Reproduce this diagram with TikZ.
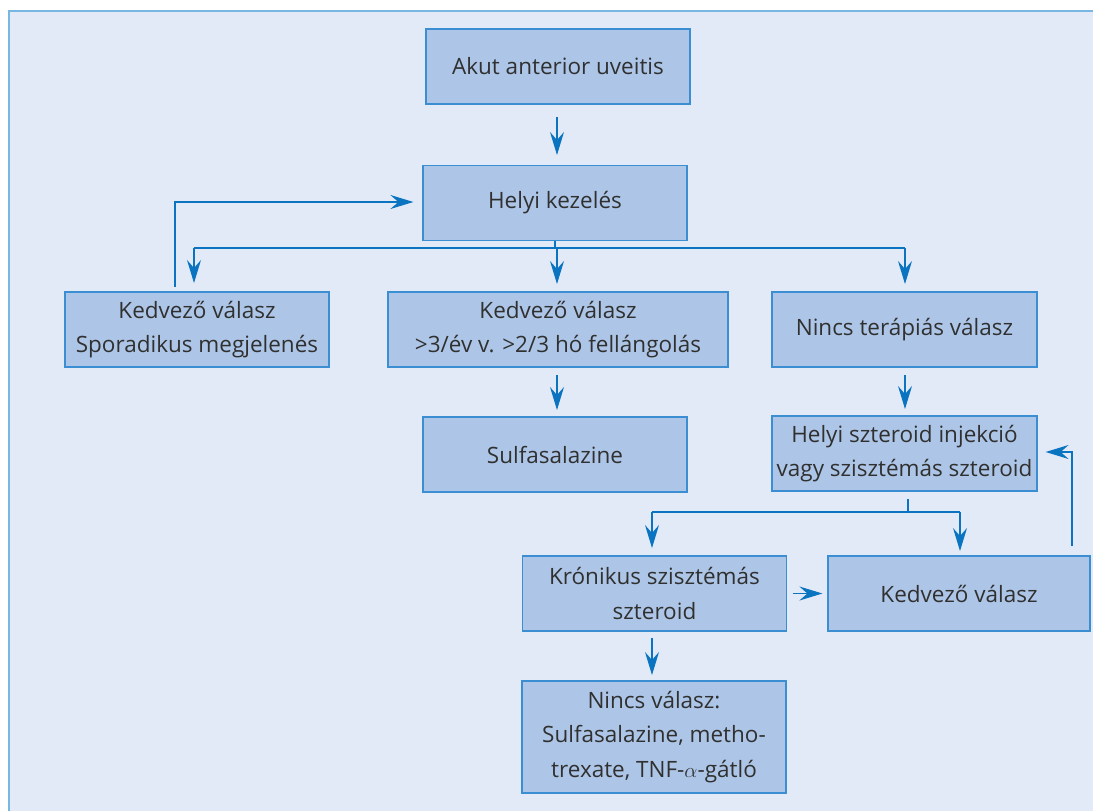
\documentclass[tikz,border=0pt]{standalone}
\usepackage{fontspec}
\setmainfont{Open Sans}
\usetikzlibrary{arrows.meta}
\definecolor{bgc}{HTML}{E2EAF7}
\definecolor{framec}{HTML}{7AB6E2}
\definecolor{boxfill}{HTML}{ADC6E7}
\definecolor{boxline}{HTML}{3B8ED2}
\definecolor{arrc}{HTML}{0A74C0}
\definecolor{txtc}{HTML}{303030}
\tikzset{
  box/.style={draw=boxline,fill=boxfill,line width=1.2pt,minimum height=75pt,
    inner sep=0pt,align=center,text=txtc,font=\fontsize{22.5}{34.5}\selectfont},
  conn/.style={draw=arrc,line width=1.2pt},
  arr/.style={conn,arrows={-Stealth[length=23pt,width=14pt,inset=8pt]}}}
\begin{document}
\begin{tikzpicture}[x=1pt,y=-1pt]
\useasboundingbox (0,0) rectangle (1093,811);
\path[fill=bgc,draw=framec,line width=1.5pt] (9,11) rectangle (1110,830);
\node[box,minimum width=264pt] (b1) at (558,66.5) {Akut anterior uveitis};
\node[box,minimum width=264pt] (b2) at (555,203) {Helyi kezelés};
\node[box,minimum width=264pt] (b3) at (197,329.5) {Kedvező válasz\\Sporadikus megjelenés};
\node[box,minimum width=340pt] (b4) at (558,329.5) {Kedvező válasz\\>3/év v. >2/3 hó fellángolás};
\node[box,minimum width=265pt] (b5) at (904.5,329.5) {Nincs terápiás válasz};
\node[box,minimum width=264pt] (b6) at (555,454.5) {Sulfasalazine};
\node[box,minimum width=265pt] (b7) at (904.5,453.5) {Helyi szteroid injekció\\vagy szisztémás szteroid};
\node[box,minimum width=264pt] (b8) at (654.5,593.5) {Krónikus szisztémás\\szteroid};
\node[box,minimum width=262pt] (b9) at (959,593.5) {Kedvező válasz};
\node[box,minimum width=264pt,minimum height=112pt] (b10) at (654,737) {Nincs válasz:\\Sulfasalazine, metho-\\trexate, TNF-$\alpha$-gátló};
% b1 -> b2
\draw[arr] (557,117) -- (557,155);
% b2 branch
\coordinate (j1) at (555,248);
\draw[conn] (b2.south) -- (j1);
\draw[conn] (194,248) -- (905,248);
\draw[arr] (194,248) -- (194,283);
\draw[arr] (557,248) -- (557,284);
\draw[arr] (905,248) -- (905,284);
% feedback b3 -> b2
\draw[arr] (175,287) -- (175,202) -- ([xshift=-9pt]b2.west |- 0,202);
% b4 -> b6
\draw[arr] (557,375) -- (557,410);
% b5 -> b7
\draw[arr] (905,375) -- (905,409);
% b7 branch
\draw[conn] (908,499) -- (908,512);
\draw[conn] (652,512) -- (960,512);
\draw[arr] (652,512) -- (652,548);
\draw[arr] (960,512) -- (960,551);
% b8 -> b9
\draw[arr] (793,593.5) -- ([xshift=-5pt]b9.west);
% feedback b9 -> b7
\draw[arr] (1072,546) -- (1072,452) -- ([xshift=8pt]b7.east |- 0,452);
% b8 -> b10
\draw[arr] (652,638) -- (652,675);
\end{tikzpicture}
\end{document}
